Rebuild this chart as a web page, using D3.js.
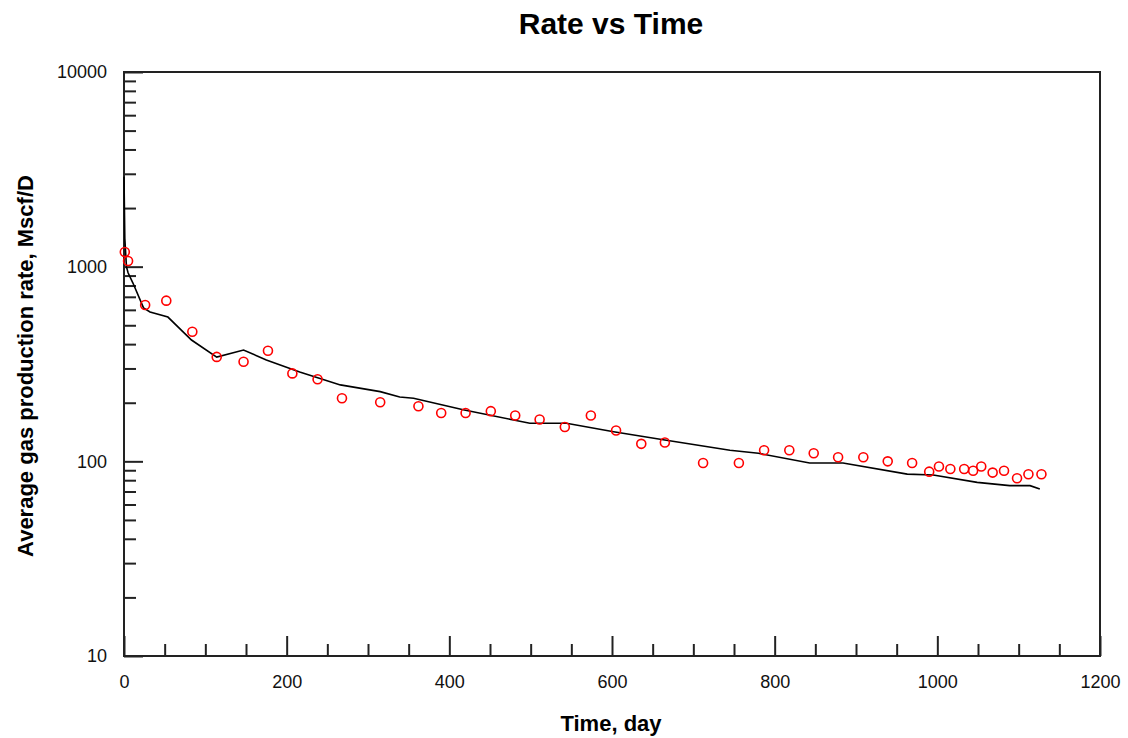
<!DOCTYPE html>
<html>
<head>
<meta charset="utf-8">
<script src="https://cdn.jsdelivr.net/npm/d3@7"></script>
<style>
  body { margin: 0; background: #fff; }
  text { font-family: "Liberation Sans", Arial, sans-serif; }
</style>
</head>
<body>
<script>
// rate vs time, log scale
var width = 1128;
var height = 738;

// model curve (day, Mscf/D)
var modelDays  = [0, 1, 3, 5, 11, 24, 32, 54, 83, 114, 147, 175, 216, 266, 315, 339, 356, 417, 479, 499, 544, 602, 663, 745, 780, 843, 884, 963, 995, 1049, 1089, 1114, 1126];
var modelRates = [2900, 1400, 1000, 930, 824, 614, 585, 551, 420, 343, 373, 332, 288, 247, 228, 214, 211, 184, 163, 157, 157, 142, 129, 114, 110, 98, 98, 86, 85, 78, 75, 75, 72];

// measured points
var obsDays  = [1, 5, 26, 52, 84, 114, 147, 177, 207, 238, 268, 315, 362, 390, 420, 451, 481, 511, 542, 574, 605, 636, 665, 712, 756, 787, 818, 848, 878, 909, 939, 969, 990, 1002, 1016, 1033, 1044, 1054, 1068, 1082, 1098, 1112, 1128];
var obsRates = [1190, 1070, 636, 669, 463, 344, 325, 370, 283, 264, 211, 201, 192, 177, 177, 181, 172, 164, 150, 172, 144, 123, 125, 98, 98, 114, 114, 110, 105, 105, 100, 98, 88.5, 94, 91.4, 91.4, 89.5, 94, 87.5, 89.5, 81.8, 85.8, 85.8];

var xMajor = [0, 200, 400, 600, 800, 1000, 1200];
var yMajor = [10, 100, 1000, 10000];

var plotLeft = 124, plotRight = 1100, plotTop = 72, plotBottom = 656;

var svg = d3.select('body').append('svg')
  .attr('width', width)
  .attr('height', height);

var x = d3.scaleLinear().domain([0, 1200]).range([plotLeft, plotRight]);
var y = d3.scaleLog().domain([10, 10000]).range([plotBottom, plotTop]);

var xMinor = d3.range(0, 1201, 50).filter(function(d){ return d % 200 != 0; });
var yMinor = [];
[10, 100, 1000].forEach(function(dec){
  for (var k = 2; k <= 9; k++) yMinor.push(dec * k);
});

// minor ticks
svg.append('g')
  .attr('transform', 'translate(0,' + plotBottom + ')')
  .call(d3.axisBottom(x).tickValues(xMinor).tickSize(-12).tickFormat(''))
  .call(function(g){ g.select('.domain').remove(); });
svg.append('g')
  .attr('transform', 'translate(' + plotLeft + ',0)')
  .call(d3.axisLeft(y).tickValues(yMinor).tickSize(-12).tickFormat(''))
  .call(function(g){ g.select('.domain').remove(); });

// major ticks + labels
var xAxis = svg.append('g')
  .attr('transform', 'translate(0,' + plotBottom + ')')
  .call(d3.axisBottom(x).tickValues(xMajor).tickSize(-20).tickPadding(19).tickFormat(d3.format('d')));
xAxis.select('.domain').remove();

var yAxis = svg.append('g')
  .attr('transform', 'translate(' + plotLeft + ',0)')
  .call(d3.axisLeft(y).tickValues(yMajor).tickSize(-19).tickPadding(17).tickFormat(d3.format('d')));
yAxis.select('.domain').remove();

svg.selectAll('.tick line').attr('stroke', '#222').attr('stroke-width', 2);
svg.selectAll('.tick text')
  .attr('font-size', 18)
  .attr('fill', '#111')
  .style('font-family', '"Liberation Sans", Arial, sans-serif');

// frame
svg.append('rect')
  .attr('x', plotLeft).attr('y', plotTop)
  .attr('width', plotRight - plotLeft).attr('height', plotBottom - plotTop)
  .attr('fill', 'none')
  .attr('stroke', '#222')
  .attr('stroke-width', 2);

// model line
var line = d3.line()
  .x(function(d){ return x(d[0]); })
  .y(function(d){ return y(d[1]); });

svg.append('path')
  .datum(d3.zip(modelDays, modelRates))
  .attr('d', line)
  .attr('fill', 'none')
  .attr('stroke', '#000')
  .attr('stroke-width', 1.6);

// observed circles
svg.selectAll('circle.obs')
  .data(d3.zip(obsDays, obsRates))
  .enter().append('circle')
  .classed('obs', true)
  .attr('cx', function(d){ return x(d[0]); })
  .attr('cy', function(d){ return y(d[1]); })
  .attr('r', 4.5)
  .attr('fill', 'none')
  .attr('stroke', '#ff0000')
  .attr('stroke-width', 1.6);

// titles
svg.append('text')
  .attr('x', 611).attr('y', 34)
  .attr('text-anchor', 'middle')
  .attr('font-size', 30)
  .attr('font-weight', 'bold')
  .text('Rate vs Time');

svg.append('text')
  .attr('x', 611).attr('y', 731)
  .attr('text-anchor', 'middle')
  .attr('font-size', 22)
  .attr('font-weight', 'bold')
  .text('Time, day');

svg.append('text')
  .attr('transform', 'translate(33,366) rotate(-90)')
  .attr('text-anchor', 'middle')
  .attr('font-size', 22)
  .attr('font-weight', 'bold')
  .text('Average gas production rate, Mscf/D');
</script>
</body>
</html>
